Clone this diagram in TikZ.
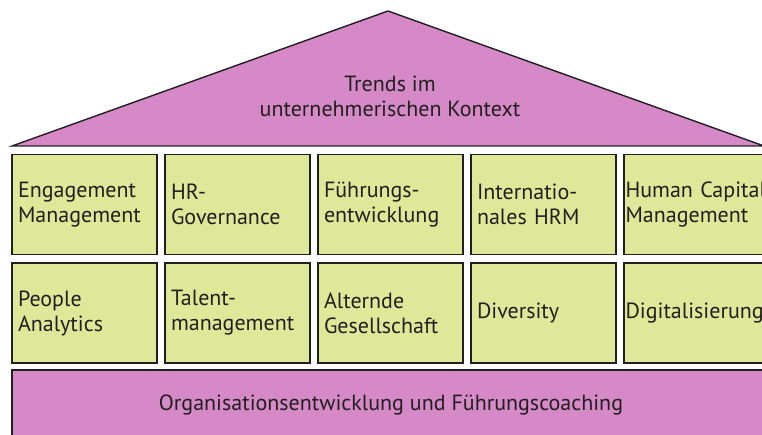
\documentclass[tikz,border=0pt]{standalone}
\usepackage{fontspec}
\setmainfont{PT Sans}
\definecolor{roofpink}{HTML}{D589C7}
\definecolor{cellgreen}{HTML}{DFE799}
\definecolor{inkdark}{HTML}{231F20}
\tikzset{
    roof/.style={fill=roofpink, draw=inkdark, line width=1.4pt, line join=miter},
    cell/.style={fill=cellgreen, draw=inkdark, line width=1.4pt,
        minimum width=145pt, minimum height=100pt, text width=133pt,
        inner xsep=6pt, align=left, text=inkdark, font=\fontsize{22}{25}\selectfont},
    edgecell/.style={cell, text width=142pt, inner xsep=1.5pt},
    label/.style={text=inkdark, align=center, font=\fontsize{22}{25}\selectfont},
}
\begin{document}
\begin{tikzpicture}[x=1pt, y=-1pt]
        \useasboundingbox (0,0) rectangle (762,435);
        \clip (0,0) rectangle (762,435);

        % roof
        \draw[roof] (12,146) -- (388,11) -- (764,146) -- cycle;
        \node[label] (trends) at (390,96) {Trends im\\unternehmerischen Kontext};

        % first row
        \node[cell] (engage) at (84.5,204.5) {Engagement\\Management};
        \node[cell] (govern) at (237.5,204.5) {HR-\\Governance};
        \node[cell] (fuehr) at (390.5,204.5) {Führungs-\\entwicklung};
        \node[cell] (intl) at (543.5,204.5) {Internatio-\\nales HRM};
        \node[edgecell] (hcm) at (696.5,204.5) {\mbox{Human Capital}\\Management};

        % second row
        \node[cell] (people) at (84.5,313) {People\\Analytics};
        \node[cell] (talent) at (237.5,313) {Talent-\\management};
        \node[cell] (aging) at (390.5,313) {Alternde\\Gesellschaft};
        \node[cell] (divers) at (543.5,313) {Diversity};
        \node[edgecell] (digital) at (696.5,313) {Digitalisierung};

        % foundation
        \draw[roof] (12,370) rectangle (790,470);
        \node[label] (orga) at (391,405) {Organisationsentwicklung und Führungscoaching};
    \end{tikzpicture}
\end{document}
